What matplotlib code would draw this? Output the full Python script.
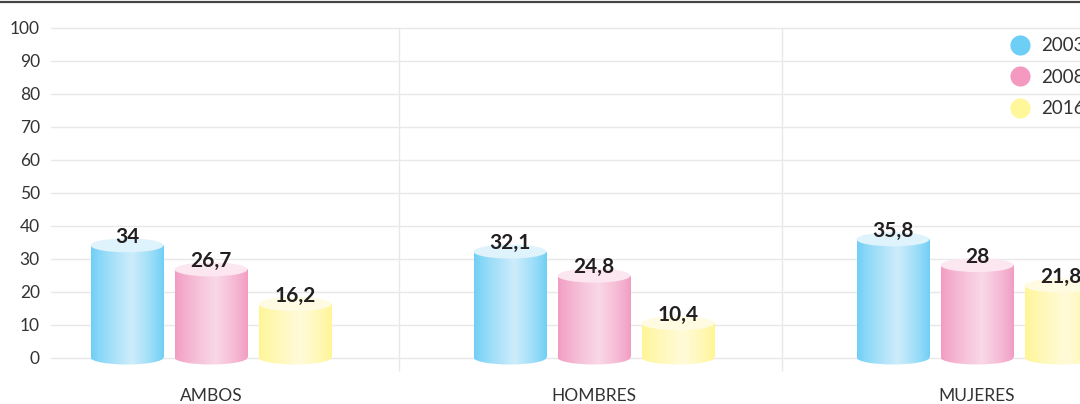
import numpy as np
import matplotlib
matplotlib.use("Agg")
import matplotlib.pyplot as plt
from matplotlib.patches import Rectangle, Ellipse
from matplotlib.colors import to_rgb
from matplotlib.lines import Line2D

plt.rcParams['font.family'] = ['Lato', 'DejaVu Sans']

# data
categories = ['AMBOS', 'HOMBRES', 'MUJERES']
years = ['2003', '2008', '2016']
values = {
    '2003': [34, 32.1, 35.8],
    '2008': [26.7, 24.8, 28],
    '2016': [16.2, 10.4, 21.8],
}

# edge colour, light middle colour, top ellipse colour
palette = {
    '2003': ('#6dcff6', '#cdecfb', '#dff3fc'),
    '2008': ('#f29bc1', '#f9d8e7', '#fce6f0'),
    '2016': ('#fff594', '#fffbd9', '#fffbe3'),
}
legend_colors = {'2003': '#6dcff6', '2008': '#f49ac1', '2016': '#fff799'}

W, H = 1080, 404
fig = plt.figure(figsize=(W / 100, H / 100), dpi=100)
# axes in pixel terms: left 51, right 1080, top 20, bottom 380
ax = fig.add_axes([51 / W, (H - 380) / H, 1029 / W, 360 / H])

px_x = 383.0   # pixels per category
x0 = 211.0     # pixel of category 0
px_y = 3.3     # pixels per unit
y0 = 357.5     # pixel of value 0
ax.set_xlim((51 - x0) / px_x, (1080 - x0) / px_x)
ax.set_ylim(-(380 - y0) / px_y, (y0 - 20) / px_y)

for s in ax.spines.values():
    s.set_visible(False)

ax.set_yticks(np.arange(0, 101, 10))
ax.tick_params(axis='y', length=0, pad=8, labelsize=12.5, labelcolor='#333333')
ax.set_xticks(range(len(categories)))
ax.set_xticklabels(categories)
ax.tick_params(axis='x', length=0, pad=5.5, labelsize=12.5, labelcolor='#333333')
ax.grid(axis='y', color='#e8e8e8', lw=1)
ax.set_axisbelow(True)
ax.vlines([0.49, 1.49], -13 / px_y, 100, color='#e8e8e8', lw=1, zorder=0)

bar_w = 73 / px_x
step = 84 / px_x
ell_h = 14 / px_y
x = np.arange(len(categories))


def gradient(edge, light):
    e = np.array(to_rgb(edge))
    l = np.array(to_rgb(light))
    t = np.linspace(0, 1, 200)
    # lightest a bit right of centre
    w = np.where(t < 0.56, t / 0.56, (1 - t) / 0.44)
    w = np.clip(w, 0, 1) ** 0.8
    row = e[None, :] * (1 - w[:, None]) + l[None, :] * w[:, None]
    return row[None, :, :]


for i, yr in enumerate(years):
    edge, light, top = palette[yr]
    grad = gradient(edge, light)
    for xc, v in zip(x + (i - 1) * step, values[yr]):
        left = xc - bar_w / 2
        body = Rectangle((left, 0), bar_w, v, facecolor='none', edgecolor='none')
        ax.add_patch(body)
        bottom = Ellipse((xc, 0), bar_w, ell_h, facecolor='none', edgecolor='none')
        ax.add_patch(bottom)
        for clip in (body, bottom):
            im = ax.imshow(grad, extent=(left, left + bar_w, -ell_h, v),
                           aspect='auto', interpolation='bilinear', zorder=2)
            im.set_clip_path(clip)
        ax.add_patch(Ellipse((xc, v), bar_w, ell_h, facecolor=top,
                             edgecolor='none', zorder=3))
        label = ('%g' % v).replace('.', ',')
        ax.text(xc, v + 0.7, label, ha='center', va='baseline', fontsize=15,
                fontweight='bold', color='#231f20', zorder=4)

ax.set_xlim((51 - x0) / px_x, (1080 - x0) / px_x)
ax.set_ylim(-(380 - y0) / px_y, (y0 - 20) / px_y)

handles = [Line2D([], [], ls='none', marker='o', markersize=14.5,
                  markerfacecolor=legend_colors[yr], markeredgecolor='none')
           for yr in years]
ax.legend(handles, years, loc='upper left', frameon=False,
          bbox_to_anchor=(1001 / W, 1 - 28 / H), bbox_transform=fig.transFigure,
          fontsize=13.5, labelspacing=0.77, handlelength=1.0, handletextpad=0.65,
          borderpad=0, labelcolor='#333333')

fig.add_artist(Line2D([0, 1], [1 - 1.5 / H, 1 - 1.5 / H], color='#444444', lw=1.6,
                      transform=fig.transFigure))

fig.savefig('out.png', dpi=100)
